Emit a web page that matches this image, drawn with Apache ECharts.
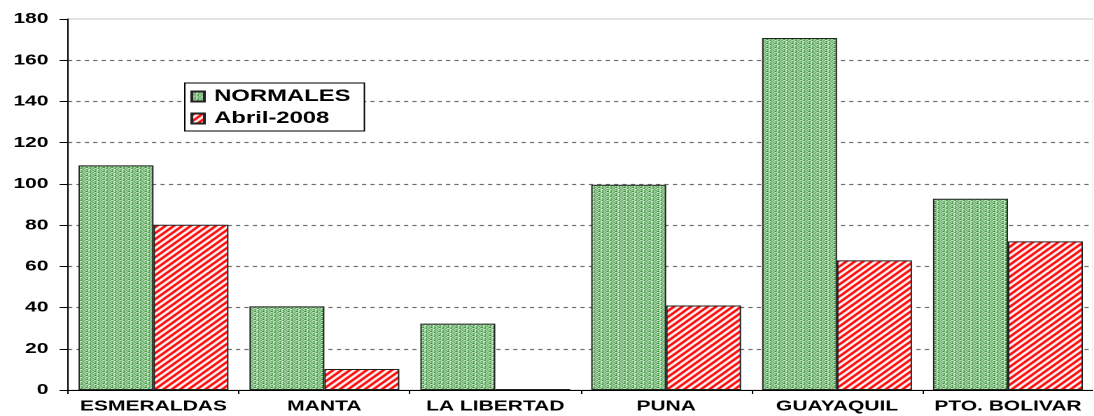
<!DOCTYPE html>
<html>
<head>
<meta charset="utf-8">
<script src="https://cdn.jsdelivr.net/npm/echarts@6/dist/echarts.min.js"></script>
<style>
html, body {margin: 0; padding: 0; background: #fff; overflow: hidden;}
/* the original picture is stretched sideways, so the chart is drawn narrow and widened */
#showcase {width: 781.4px; height: 416px; transform: scaleX(1.4); transform-origin: 0 0;}
</style>
</head>
<body>
<div id="showcase"></div>
<script>
var categories = ["ESMERALDAS", "MANTA", "LA LIBERTAD", "PUNA", "GUAYAQUIL", "PTO. BOLIVAR"];
var normales = [109, 40.6, 32.2, 99.6, 170.8, 92.8];
var abril2008 = [80.2, 10.2, 0.5, 41, 62.9, 72.1];
var yTicks = [0, 20, 40, 60, 80, 100, 120, 140, 160, 180];

// texture tiles for the bars
function makeTile(w, h, painter) {
	var c = document.createElement("canvas");
	c.width = w;
	c.height = h;
	var ctx = c.getContext("2d");
	for (var y = 0; y < h; y++) {
		for (var x = 0; x < w; x++) {
			ctx.fillStyle = painter(x, y);
			ctx.fillRect(x, y, 1, 1);
		}
	}
	return c;
}
var greenRows = ["DWWLDW", "WLDWWD", "DWLWDW", "WDDWLL"];
var greenTile = makeTile(6, 4, function (x, y) {
	var ch = greenRows[y][x];
	if (ch == "D") return "#0a780a";
	if (ch == "L") return "#5cb45c";
	return "#ffffff";
});
var redTile = makeTile(6, 6, function (x, y) {
	return (x + y) % 6 < 3 ? "#ff0000" : "#ffffff";
});

var font = "'Liberation Sans', Arial, sans-serif";
var myChart = echarts.init(document.getElementById("showcase"), null, {devicePixelRatio: 2});
var option = {
	backgroundColor: "#ffffff",
	animation: false,
	grid: {left: 48.6, right: 0, top: 19, bottom: 26, show: true, borderColor: "#c8c8c8", borderWidth: 1},
	legend: {
		orient: "vertical",
		left: 132,
		top: 83,
		backgroundColor: "#ffffff",
		borderColor: "#000000",
		borderWidth: 1,
		padding: [5, 10, 4, 4],
		itemGap: 5,
		itemWidth: 9,
		itemHeight: 10,
		icon: "rect",
		textStyle: {fontFamily: font, fontWeight: "bold", fontSize: 17, color: "#000", padding: [0, 0, 0, 2]},
		data: ["NORMALES", "Abril-2008"]
	},
	xAxis: {
		type: "category",
		data: categories,
		axisLine: {lineStyle: {color: "#000", width: 1}},
		axisTick: {show: true, length: 4, lineStyle: {color: "#000"}},
		axisLabel: {interval: 0, fontFamily: font, fontWeight: "bold", fontSize: 15, color: "#000", margin: 9}
	},
	yAxis: {
		type: "value",
		min: yTicks[0],
		max: yTicks[yTicks.length - 1],
		interval: 20,
		axisLine: {show: true, lineStyle: {color: "#000", width: 1}},
		axisTick: {show: true, length: 6, lineStyle: {color: "#000"}},
		axisLabel: {fontFamily: font, fontWeight: "bold", fontSize: 15, color: "#000", margin: 14},
		splitLine: {show: true, showMinLine: false, showMaxLine: false, lineStyle: {color: "#6e6e6e", type: [3, 3], width: 1.2}}
	},
	series: [{
		name: "NORMALES",
		type: "bar",
		data: normales,
		barGap: 0,
		barCategoryGap: "12.3%",
		itemStyle: {color: {image: greenTile, repeat: "repeat"}, borderColor: "#222", borderWidth: 1}
	}, {
		name: "Abril-2008",
		type: "bar",
		data: abril2008,
		itemStyle: {color: {image: redTile, repeat: "repeat"}, borderColor: "#222", borderWidth: 1}
	}]
};
myChart.setOption(option);
</script>
</body>
</html>
